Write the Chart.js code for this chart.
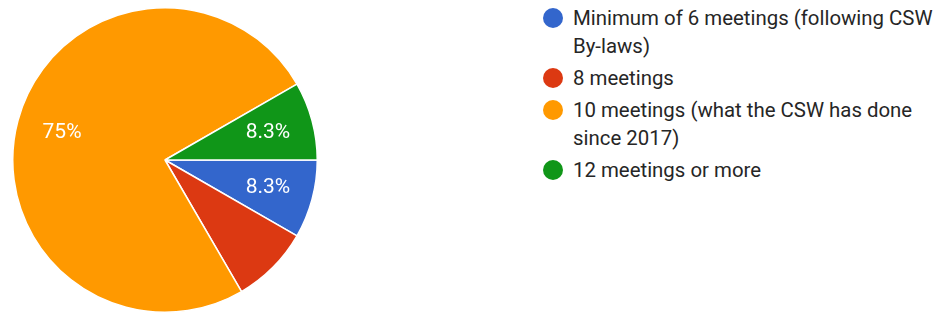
<!DOCTYPE html>
<html>
<head>
<meta charset="utf-8">
<script src="https://cdn.jsdelivr.net/npm/chart.js@4.4.0/dist/chart.umd.min.js"></script>
<style>
  html, body { margin: 0; padding: 0; background: #fff; }
  body { width: 934px; height: 314px; position: relative; overflow: hidden; font-family: Roboto, Arial, sans-serif; }
  #pieWrap { position: absolute; left: 0; top: 0; width: 330px; height: 314px; }
  #legend { position: absolute; left: 543px; top: 4px; }
  .item { display: flex; align-items: flex-start; margin-bottom: 4px; }
  .dot { width: 20px; height: 20px; border-radius: 50%; margin-top: 4px; margin-right: 10px; flex: none; }
  .txt { width: 361px; font-size: 20.4px; line-height: 28px; color: #262626; }
</style>
</head>
<body>
<div id="pieWrap"><canvas id="meetingsPieChart"></canvas></div>
<div id="legend"></div>
<script>
/* Pie chart
 * ---------
 * How many meetings per year
 */
'use strict';

var categories = [
  'Minimum of 6 meetings (following CSW By-laws)',
  '8 meetings',
  '10 meetings (what the CSW has done since 2017)',
  '12 meetings or more'
];
var responses = [8.3, 8.3, 75, 8.3];
// red slice has no label in the original picture
var sliceLabels = ['8.3%', '', '75%', '8.3%'];
var colors = ['#3366cc', '#dc3912', '#ff9900', '#109618'];

// draws the percent text inside each slice
var sliceLabelPlugin = {
  id: 'sliceLabels',
  afterDatasetsDraw: function (chart) {
    var ctx = chart.ctx;
    var meta = chart.getDatasetMeta(0);
    ctx.save();
    ctx.fillStyle = '#fff';
    ctx.font = '21px Roboto';
    ctx.textAlign = 'center';
    ctx.textBaseline = 'middle';
    meta.data.forEach(function (arc, i) {
      if (!sliceLabels[i]) return;
      var mid = (arc.startAngle + arc.endAngle) / 2;
      var r = arc.outerRadius * 0.7;
      ctx.fillText(sliceLabels[i], arc.x + Math.cos(mid) * r, arc.y + Math.sin(mid) * r);
    });
    ctx.restore();
  }
};

var pieCanvas = document.getElementById('meetingsPieChart').getContext('2d');
var pieChart = new Chart(pieCanvas, {
  type: 'pie',
  data: {
    labels: categories,
    datasets: [{
      data: responses,
      backgroundColor: colors,
      borderColor: '#fff',
      borderWidth: 1.5
    }]
  },
  options: {
    responsive: true,
    maintainAspectRatio: false,
    animation: false,
    rotation: 90,
    layout: { padding: { left: 12, right: 12, top: 7, bottom: 1 } },
    plugins: {
      legend: { display: false },
      tooltip: { enabled: false }
    }
  },
  plugins: [sliceLabelPlugin]
});

// html legend so long labels can wrap
var legendBox = document.getElementById('legend');
categories.forEach(function (name, i) {
  var item = document.createElement('div');
  item.className = 'item';
  var dot = document.createElement('span');
  dot.className = 'dot';
  dot.style.background = colors[i];
  var txt = document.createElement('span');
  txt.className = 'txt';
  txt.textContent = name;
  item.appendChild(dot);
  item.appendChild(txt);
  legendBox.appendChild(item);
});
</script>
</body>
</html>
